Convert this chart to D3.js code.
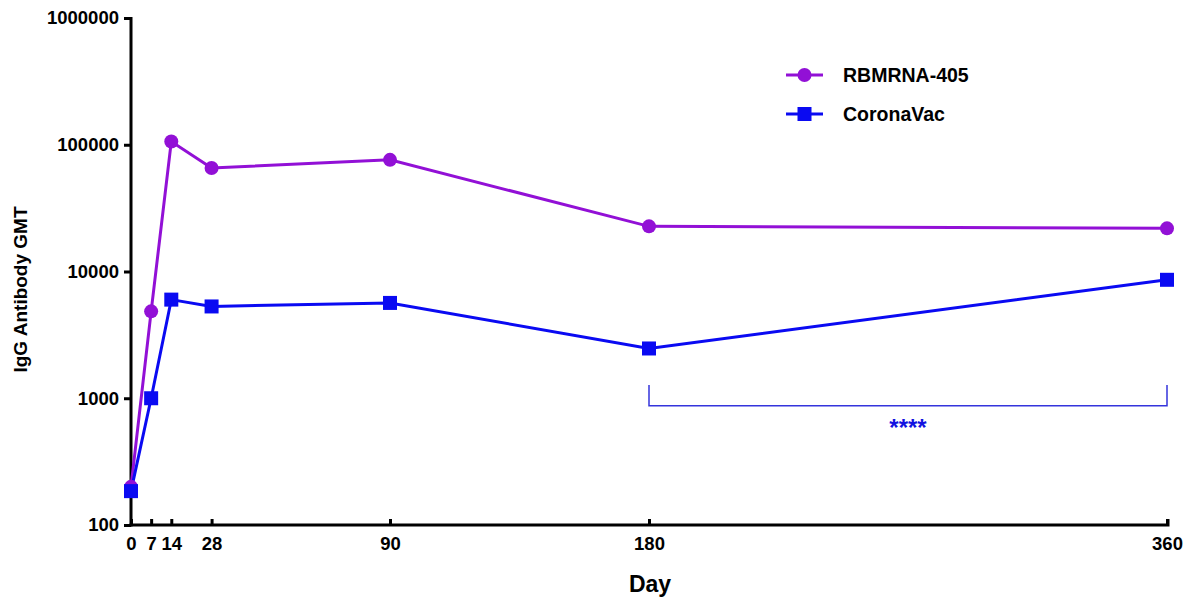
<!DOCTYPE html>
<html>
<head>
<meta charset="utf-8">
<script src="https://cdn.jsdelivr.net/npm/d3@7"></script>
<style>
  body { margin: 0; background: #fff; }
  text { font-family: "Liberation Sans", Arial, sans-serif; font-weight: bold; }
</style>
</head>
<body>
<div id="chart-area"></div>
<script>
// data
var days = [0, 7, 14, 28, 90, 180, 360];
var dayTicks = [0, 7, 14, 28, 90, 180, 360];
var rbmrna = [200, 4850, 106000, 65500, 76000, 22700, 21900];
var coronavac = [185, 1000, 6000, 5300, 5650, 2470, 8600];
var yTicks = [100, 1000, 10000, 100000, 1000000];
var seriesNames = ["RBMRNA-405", "CoronaVac"];
var seriesColors = ["#9210d6", "#0a0af2"];

var margin = { left: 131, right: 30, top: 18, bottom: 73 };
var width = 1197 - margin.left - margin.right,
    height = 598 - margin.top - margin.bottom;

var svg = d3.select("#chart-area")
    .append("svg")
        .attr("width", 1197)
        .attr("height", 598);

var g = svg.append("g")
    .attr("transform", "translate(" + margin.left + ", " + margin.top + ")");

var x = d3.scaleLinear()
    .domain([0, 360])
    .range([0, width]);

var y = d3.scaleLog()
    .domain([100, 1000000])
    .range([height, 0]);

// axes
var xAxisCall = d3.axisBottom(x)
    .tickValues(dayTicks)
    .tickFormat(d3.format("d"))
    .tickSize(6)
    .tickSizeOuter(0);

var yAxisCall = d3.axisLeft(y)
    .tickValues(yTicks)
    .tickFormat(d3.format("d"))
    .tickSize(7)
    .tickSizeOuter(0);

var xAxisGroup = g.append("g")
    .attr("transform", "translate(0, " + height + ")")
    .call(xAxisCall);

var yAxisGroup = g.append("g")
    .call(yAxisCall);

[xAxisGroup, yAxisGroup].forEach(function(ax) {
  ax.select(".domain").attr("stroke", "#000").attr("stroke-width", 3);
  ax.selectAll(".tick line").attr("stroke", "#000").attr("stroke-width", 3);
  ax.selectAll(".tick text")
      .attr("fill", "#000")
      .attr("font-size", "18.5px")
      .attr("font-family", "Liberation Sans, Arial, sans-serif")
      .attr("font-weight", "bold");
});
xAxisGroup.selectAll(".tick line").attr("y1", -6).attr("y2", 0);
xAxisGroup.selectAll(".tick text").attr("y", 12);
yAxisGroup.selectAll(".tick text").attr("x", -12);
// y axis line reaches down to x axis
yAxisGroup.select(".domain").attr("d", "M0," + (height + 1.5) + "V-1");
xAxisGroup.select(".domain").attr("d", "M-1.5,0H" + (width + 1) + "V-6");

// axis labels
g.append("text")
    .attr("x", width / 2 + 1)
    .attr("y", height + 67)
    .attr("font-size", "23px")
    .attr("text-anchor", "middle")
    .text("Day");

g.append("text")
    .attr("transform", "rotate(-90)")
    .attr("x", -(height / 2) - 18)
    .attr("y", -104)
    .attr("font-size", "19px")
    .attr("text-anchor", "middle")
    .text("IgG Antibody GMT");

// lines + markers
var line = d3.line()
    .x(function(d) { return x(d.day); })
    .y(function(d) { return y(d.value); });

var seriesData = [rbmrna, coronavac].map(function(vals, i) {
  return {
    name: seriesNames[i],
    color: seriesColors[i],
    points: days.map(function(day, j) { return { day: day, value: vals[j] }; })
  };
});

seriesData.forEach(function(s, i) {
  g.append("path")
      .datum(s.points)
      .attr("fill", "none")
      .attr("stroke", s.color)
      .attr("stroke-width", 3)
      .attr("d", line);
});

// circles for RBMRNA-405
g.selectAll(".dot")
    .data(seriesData[0].points)
    .enter().append("circle")
        .attr("cx", function(d) { return x(d.day); })
        .attr("cy", function(d) { return y(d.value); })
        .attr("r", 7)
        .attr("fill", seriesColors[0]);

// squares for CoronaVac
g.selectAll(".sq")
    .data(seriesData[1].points)
    .enter().append("rect")
        .attr("x", function(d) { return x(d.day) - 7; })
        .attr("y", function(d) { return y(d.value) - 7; })
        .attr("width", 14)
        .attr("height", 14)
        .attr("fill", seriesColors[1]);

// significance bracket between day 180 and 360
var bx1 = x(180), bx2 = x(360);
var bTop = y(1270), bBase = y(1000) + 7.5;
g.append("path")
    .attr("d", "M" + bx1 + "," + bTop + "V" + bBase + "H" + bx2 + "V" + bTop)
    .attr("fill", "none")
    .attr("stroke", "#3434dc")
    .attr("stroke-width", 1.5);

g.append("text")
    .attr("x", (bx1 + bx2) / 2)
    .attr("y", bBase + 30)
    .attr("font-size", "24px")
    .attr("fill", "#1212e0")
    .attr("text-anchor", "middle")
    .text("****");

// legend
var legend = svg.append("g")
    .attr("transform", "translate(786, 75)");

seriesData.forEach(function(s, i) {
  var row = legend.append("g").attr("transform", "translate(0, " + (i * 39) + ")");
  row.append("line")
      .attr("x1", 0).attr("x2", 37)
      .attr("stroke", s.color)
      .attr("stroke-width", 3);
  if (i === 0) {
    row.append("circle").attr("cx", 18.5).attr("r", 7).attr("fill", s.color);
  } else {
    row.append("rect").attr("x", 11.5).attr("y", -7).attr("width", 14).attr("height", 14).attr("fill", s.color);
  }
  row.append("text")
      .attr("x", 57)
      .attr("y", 0)
      .attr("dy", "0.35em")
      .attr("font-size", "19.5px")
      .text(s.name);
});
</script>
</body>
</html>
